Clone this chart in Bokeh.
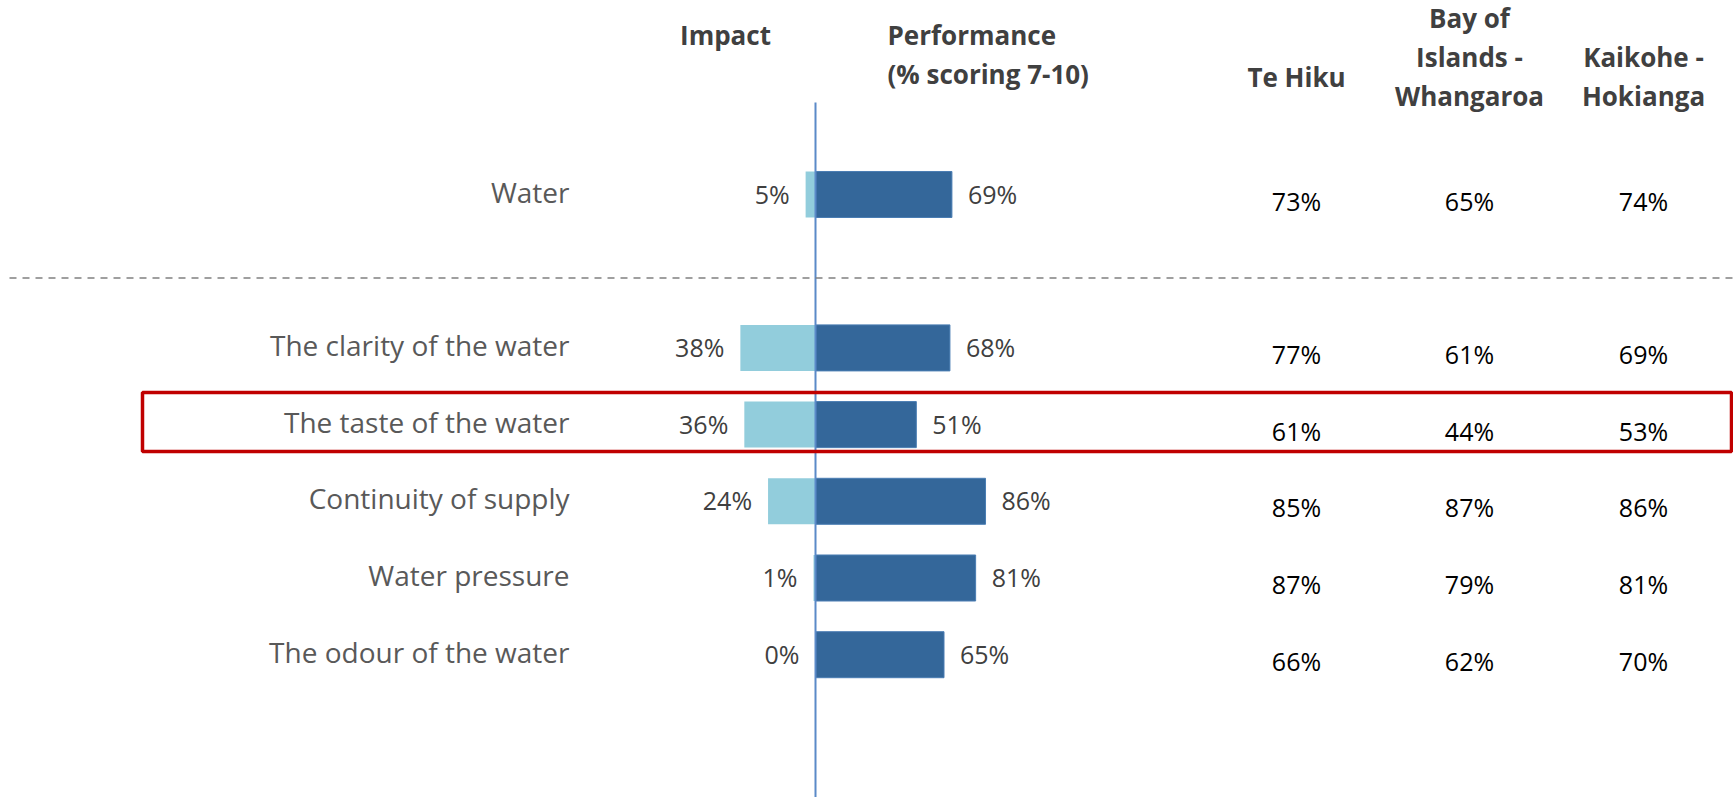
from bokeh.plotting import figure
from bokeh.models import Range1d, ColumnDataSource
from bokeh.core.properties import value
from bokeh.embed import file_html
from bokeh.resources import INLINE

# ---------------- data ----------------
categories = ["Water", "The clarity of the water", "The taste of the water",
              "Continuity of supply", "Water pressure", "The odour of the water"]
impact = [5, 38, 36, 24, 1, 0]
performance = [69, 68, 51, 86, 81, 65]
te_hiku = [73, 77, 61, 85, 87, 66]
bay_of_islands = [65, 61, 44, 87, 79, 62]
kaikohe = [74, 69, 53, 86, 81, 70]
region_headers = [["Te Hiku"], ["Bay of", "Islands -", "Whangaroa"], ["Kaikohe -", "Hokianga"]]
highlight = "The taste of the water"

# ---------------- layout helpers (page pixels -> data units) ----------------
X0, PXPCT = 815.0, 1.977     # zero line and pixels per percentage point
Y0, ROWPX = 194.0, 76.7      # first row centre and row pitch in pixels
def dx(px):
    return (px - X0) / PXPCT
def dy(py):
    return (py - Y0) / ROWPX

W, H = 1733, 797
OX, OY = 0, 0     # page origin of the figure
rows = [0] + list(range(2, 2 + len(categories) - 1))   # gap row after the overall "Water"

p = figure(width=W, height=H, output_backend="svg", toolbar_location=None,
           x_range=Range1d(dx(OX), dx(OX + W)), y_range=Range1d(dy(OY + H), dy(OY)),
           min_border=0, outline_line_color=None)
p.axis.visible = False
p.grid.visible = False
p.border_fill_color = "white"
p.background_fill_color = "white"

FONT = value("Open Sans")
src = ColumnDataSource(dict(
    y=rows, cat=categories, imp=[-v for v in impact], perf=performance,
    imp_lbl=[f"{v}%" for v in impact], perf_lbl=[f"{v}%" for v in performance],
))

# bars
p.hbar(y="y", left="imp", right=0, height=0.6, source=src,
       fill_color="#92CDDC", line_color=None)
p.hbar(y="y", left=0, right="perf", height=0.6, source=src,
       fill_color="#34679A", line_color="#4A7DB3", line_width=1)

# zero line
p.segment(x0=[0], y0=[dy(102)], x1=[0], y1=[dy(OY + H + 10)],
          line_color="#5B8AC8", line_width=2)

# dashed separator
p.segment(x0=[dx(9)], y0=[dy(277.5)], x1=[dx(OX + W)], y1=[dy(277.5)],
          line_color="#808080", line_width=1.5, line_dash="7 6")

# category labels
p.text(x=dx(569), y="y", text="cat", source=src, text_align="right", y_offset=-3,
       text_baseline="middle", text_font=FONT, text_font_size="28px",
       text_color="#595959")
# bar value labels
p.text(x="imp", y="y", text="imp_lbl", source=src, x_offset=-16, y_offset=-1,
       text_align="right", text_baseline="middle", text_font=FONT,
       text_font_size="25px", text_color="#404040")
p.text(x="perf", y="y", text="perf_lbl", source=src, x_offset=16, y_offset=-1,
       text_align="left", text_baseline="middle", text_font=FONT,
       text_font_size="25px", text_color="#404040")

# regional columns
col_x = [dx(1296), dx(1469), dx(1643)]
for cx, vals in zip(col_x, [te_hiku, bay_of_islands, kaikohe]):
    p.text(x=[cx] * len(vals), y=rows, text=[f"{v}%" for v in vals], y_offset=6,
           text_align="center", text_baseline="middle", text_font=FONT,
           text_font_size="25px", text_color="#000000")

# headers
HDR = dict(text_font=FONT, text_font_size="26px", text_font_style="bold",
           text_color="#404040", text_baseline="middle")
p.text(x=[dx(725)], y=[dy(34)], text=["Impact"], text_align="center", **HDR)
p.text(x=[dx(887), dx(887)], y=[dy(34), dy(73)],
       text=["Performance", "(% scoring 7-10)"], text_align="left", **HDR)
LINE = 39.0
for cx, lines in zip(col_x, region_headers):
    n = max(len(lines), 1)
    if len(lines) == 3:
        n = 4   # block laid out like a 4-line cell centred on the header band
    top = 76 - (n - 1) / 2 * LINE
    ys = [dy(top + i * LINE) for i in range(len(lines))]
    p.text(x=[cx] * len(lines), y=ys, text=lines, text_align="center", **HDR)

# highlight box around the taste row
hy = rows[categories.index(highlight)]
p.quad(left=[dx(142)], right=[dx(1731)], top=[hy - (424 - 392) / ROWPX],
       bottom=[hy + (451 - 424) / ROWPX], fill_color=None,
       line_color="#C00000", line_width=3.5)

open("out.html", "w").write(file_html(p, INLINE))
